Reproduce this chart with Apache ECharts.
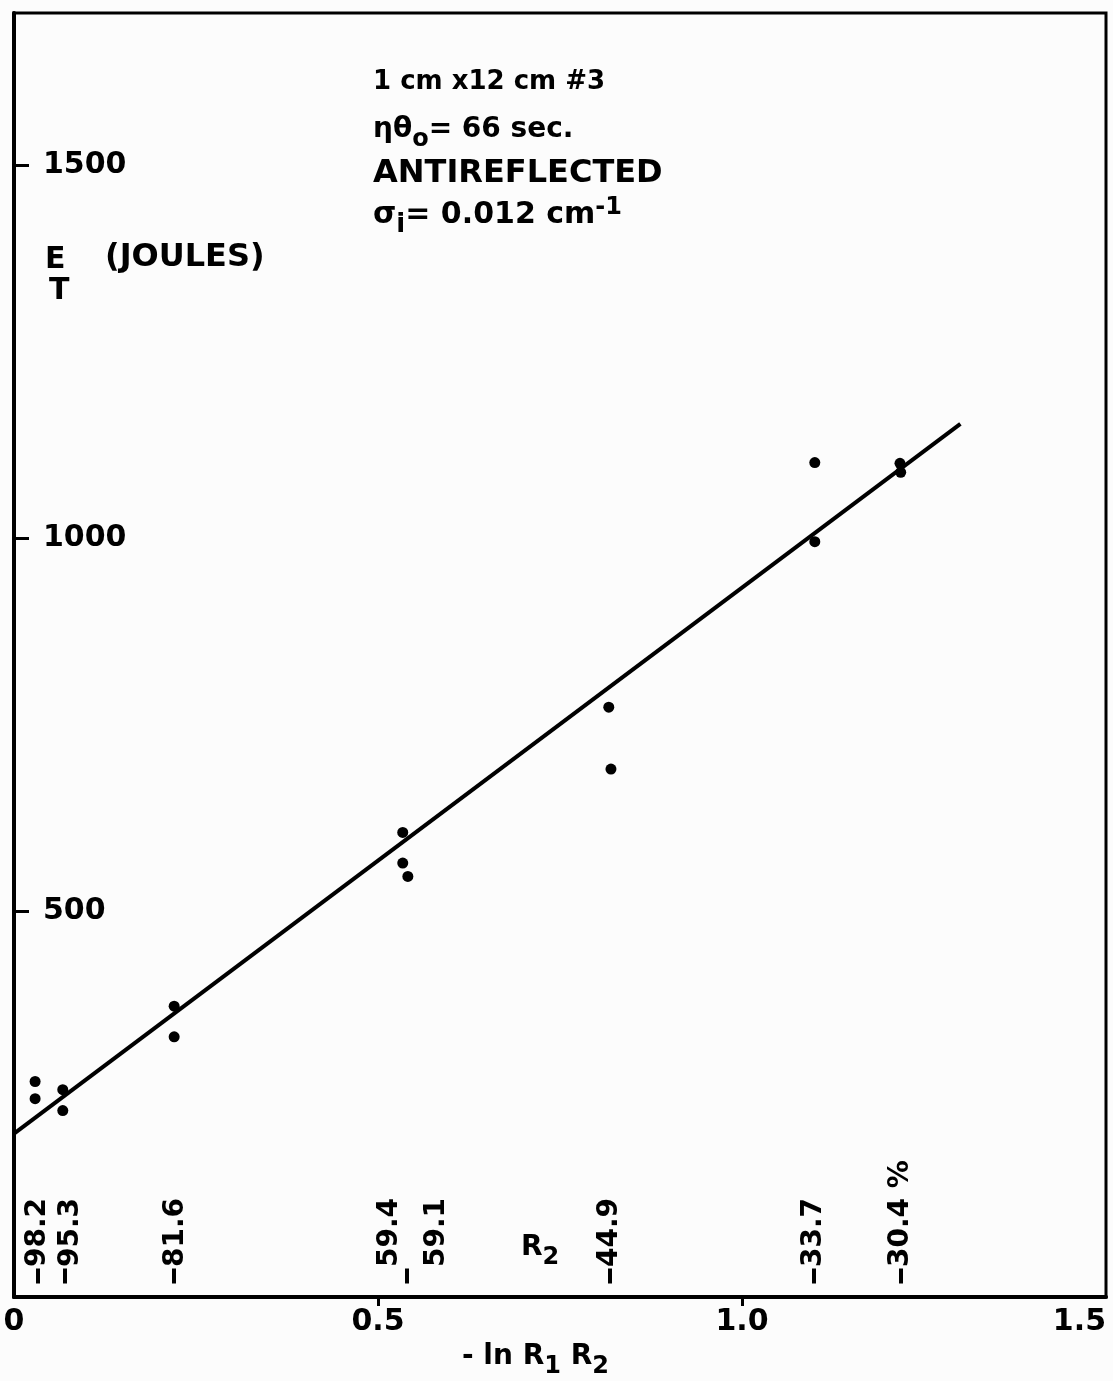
<!DOCTYPE html>
<html>
<head>
<meta charset="utf-8">
<script src="https://cdn.jsdelivr.net/npm/echarts@6/dist/echarts.min.js"></script>
<style>
  html, body { margin: 0; padding: 0; background: #fcfcfc; }
  #main { width: 1113px; height: 1381px; }
</style>
</head>
<body>
<div id="main"></div>
<script>
// -ln R1R2 vs threshold energy
const pointX = [0.029, 0.029, 0.067, 0.067, 0.220, 0.220, 0.534, 0.534, 0.541, 0.817, 0.820, 1.100, 1.100, 1.217, 1.218]
const pointY = [271, 248, 260, 232, 372, 331, 605, 564, 546, 773, 690, 1101, 995, 1100, 1088]

// fitted straight line
const fitX = [0, 1.30]
const fitY = [201, 1153]

// axis ticks
const xTicks = [0, 0.5, 1.0, 1.5]
const yTicks = [500, 1000, 1500]

// R2 reflectivity marks along the bottom
const r2TickPos = [0.032, 0.070, 0.220, 0.540, 0.818, 1.098, 1.218]
const r2LabelPos = [0.032, 0.078, 0.222, 0.516, 0.580, 0.818, 1.098, 1.218]
const r2Labels = ['98.2', '95.3', '81.6', '59.4', '59.1', '44.9', '33.7', '30.4 %']

const FONT = '"DejaVu Sans", sans-serif'

const chart = echarts.init(document.getElementById('main'))

function labelFor(v) {
  for (let i = 0; i < r2LabelPos.length; i++) {
    if (Math.abs(r2LabelPos[i] - v) < 1e-6) return r2Labels[i]
  }
  return ''
}

const txt = (left, top, text, size, rich) => ({
  type: 'text',
  left: left,
  top: top,
  style: {
    text: text,
    fill: '#000',
    fontSize: size,
    fontWeight: 'bold',
    fontFamily: FONT,
    rich: rich || {}
  }
})

const subRich = (size) => ({
  n: { fontSize: size, fontWeight: 'bold', fontFamily: FONT, lineHeight: 34 },
  s: { fontSize: size - 4, fontWeight: 'bold', fontFamily: FONT, lineHeight: 24, padding: [20, 0, 0, 0] },
  p: { fontSize: size - 6, fontWeight: 'bold', fontFamily: FONT, lineHeight: 22, padding: [0, 0, 14, 0] }
})

let option = {
  backgroundColor: '#fcfcfc',
  animation: false,
  grid: {
    left: 14,
    right: 7,
    top: 13,
    bottom: 84,
    show: true,
    borderColor: '#000',
    borderWidth: 3,
    backgroundColor: 'transparent'
  },
  xAxis: [
    {
      type: 'value',
      min: 0,
      max: 1.5,
      position: 'bottom',
      axisLine: { show: true, onZero: false, lineStyle: { color: '#000', width: 4 } },
      axisTick: { show: true, customValues: [0.5, 1.0], length: 9, lineStyle: { color: '#000', width: 3 } },
      axisLabel: {
        customValues: xTicks,
        formatter: v => (v === 0 ? '0' : v.toFixed(1)),
        color: '#000',
        fontSize: 30,
        fontWeight: 'bold',
        fontFamily: FONT,
        margin: 10,
        alignMaxLabel: 'right'
      },
      splitLine: { show: false }
    },
    {
      type: 'value',
      min: 0,
      max: 1.5,
      position: 'bottom',
      axisLine: { show: false },
      axisTick: { show: true, inside: true, customValues: r2TickPos, length: 15, lineStyle: { color: '#000', width: 4 } },
      axisLabel: {
        inside: true,
        rotate: 90,
        customValues: r2LabelPos,
        formatter: v => labelFor(v),
        color: '#000',
        fontSize: 28,
        fontWeight: 'bold',
        fontFamily: FONT,
        margin: 30
      },
      splitLine: { show: false }
    }
  ],
  yAxis: {
    type: 'value',
    min: -18,
    max: 1704,
    axisLine: { show: true, onZero: false, lineStyle: { color: '#000', width: 4 } },
    axisTick: { show: true, inside: true, customValues: yTicks, length: 15, lineStyle: { color: '#000', width: 3 } },
    axisLabel: {
      inside: true,
      customValues: yTicks,
      formatter: v => String(v),
      color: '#000',
      fontSize: 30,
      fontWeight: 'bold',
      fontFamily: FONT,
      margin: 29
    },
    splitLine: { show: false }
  },
  series: [
    {
      type: 'line',
      data: fitX.map((x, i) => [x, fitY[i]]),
      symbol: 'none',
      lineStyle: { color: '#000', width: 4 },
      z: 3
    },
    {
      type: 'scatter',
      data: pointX.map((x, i) => [x, pointY[i]]),
      symbolSize: 11,
      itemStyle: { color: '#000', opacity: 1 },
      z: 4
    }
  ],
  graphic: [
    txt(45, 245, 'E', 30),
    txt(49, 276, 'T', 30),
    txt(105, 242, '(JOULES)', 32),
    txt(373, 69, '1 cm x12 cm #3', 26),
    txt(373, 108, '{n|ηθ}{s|o}{n|= 66 sec.}', 28, subRich(28)),
    txt(373, 158, 'ANTIREFLECTED', 32),
    txt(373, 192, '{n|σ}{s|i}{n|= 0.012 cm}{p|-1}', 30, subRich(30)),
    txt(521, 1226, '{n|R}{s|2}', 28, subRich(28)),
    txt(462, 1335, '{n|- ln R}{s|1}{n| R}{s|2}', 28, subRich(28))
  ]
}

chart.setOption(option)
</script>
</body>
</html>
